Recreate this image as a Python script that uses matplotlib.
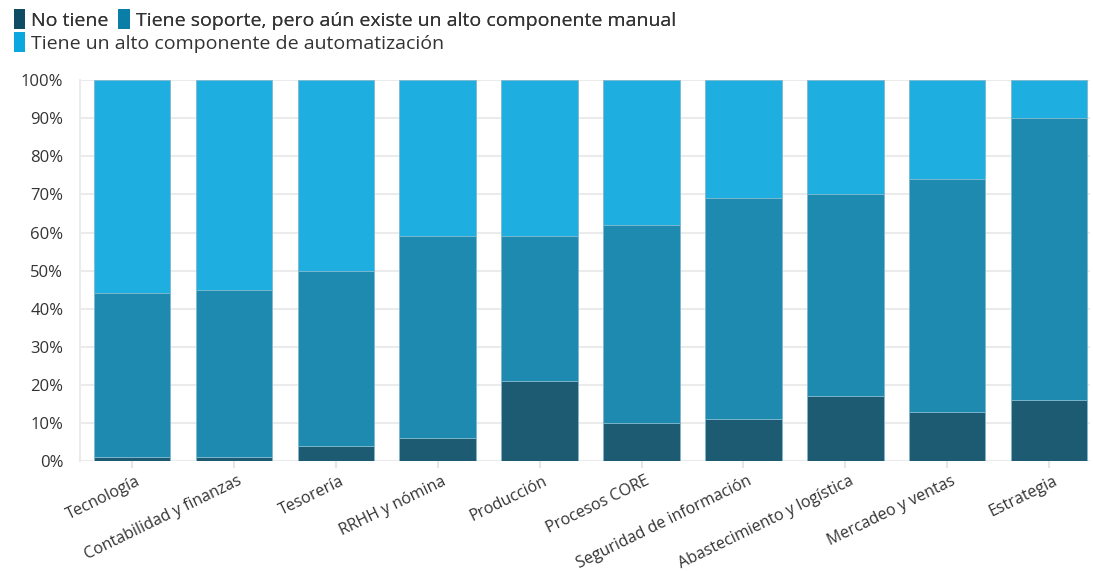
import numpy as np
import matplotlib.pyplot as plt
from matplotlib.patches import Patch
from matplotlib.transforms import ScaledTranslation

plt.rcParams['font.family'] = ['Open Sans', 'DejaVu Sans']

categorias = ['Tecnología', 'Contabilidad y finanzas', 'Tesorería', 'RRHH y nómina',
              'Producción', 'Procesos CORE', 'Seguridad de información',
              'Abastecimiento y logística', 'Mercadeo y ventas', 'Estrategia']

no_tiene = [1, 1, 4, 6, 21, 10, 11, 17, 13, 16]
manual = [43, 44, 46, 53, 38, 52, 58, 53, 61, 74]
automatizado = [56, 55, 50, 41, 41, 38, 31, 30, 26, 10]

series = ['No tiene', 'Tiene soporte, pero aún existe un alto componente manual',
          'Tiene un alto componente de automatización']
colores = ['#1d5b73', '#1f8aaf', '#1eaee0']
colores_ley = ['#0f4c64', '#0a7ea6', '#0aa8de']

fig = plt.figure(figsize=(10.93, 5.71), dpi=100)
ax = fig.add_axes([0.0732, 0.1926, 0.924, 0.667])

x = np.arange(len(categorias))
base = np.zeros(len(categorias))
for vals, c in zip([no_tiene, manual, automatizado], colores):
    ax.bar(x, vals, bottom=base, width=0.75, color=c, edgecolor='#7fb8cc',
           linewidth=0.6, zorder=3)
    base += np.array(vals)

ax.set_xlim(-0.51, 9.4)
ax.set_ylim(0, 100)
ax.set_yticks(np.arange(0, 101, 10))
ax.set_yticklabels([f'{v}%' for v in range(0, 101, 10)], fontsize=12, color='#333333')
ax.set_xticks(x)
ax.set_xticklabels(categorias, rotation=26, ha='right', va='center',
                   rotation_mode='anchor', fontsize=11.5, color='#333333')
ax.tick_params(axis='y', length=0, pad=12)
ax.tick_params(axis='x', length=5, color='#e6e6e6', width=1.5, pad=9)
# shift rotated labels so their ends sit just right of the ticks
shift = ScaledTranslation(0.07, 0, fig.dpi_scale_trans)
for lab in ax.get_xticklabels():
    lab.set_transform(lab.get_transform() + shift)
ax.grid(axis='y', color='#ebebeb', linewidth=1.5, zorder=0)
for s in ['top', 'right', 'bottom']:
    ax.spines[s].set_visible(False)
ax.spines['left'].set_color('#ebebeb')
ax.spines['left'].set_linewidth(1.5)
ax.axhline(0, color='#ebebeb', linewidth=1.5, zorder=1)

h = [Patch(facecolor=c, edgecolor='none') for c in colores_ley]
leg1 = fig.legend(h[:2], series[:2], loc='upper left', bbox_to_anchor=(0.0, 1.008),
                  ncol=2, frameon=False, fontsize=14, handlelength=0.6,
                  handleheight=1.2, handletextpad=0.3, columnspacing=0.5,
                  borderaxespad=0.3, labelcolor='#333333')
fig.legend(h[2:], series[2:], loc='upper left', bbox_to_anchor=(0.0, 0.967),
           frameon=False, fontsize=14, handlelength=0.6, handleheight=1.2,
           handletextpad=0.3, borderaxespad=0.3, labelcolor='#333333')
fig.add_artist(leg1)

fig.savefig('out.png', dpi=100)
